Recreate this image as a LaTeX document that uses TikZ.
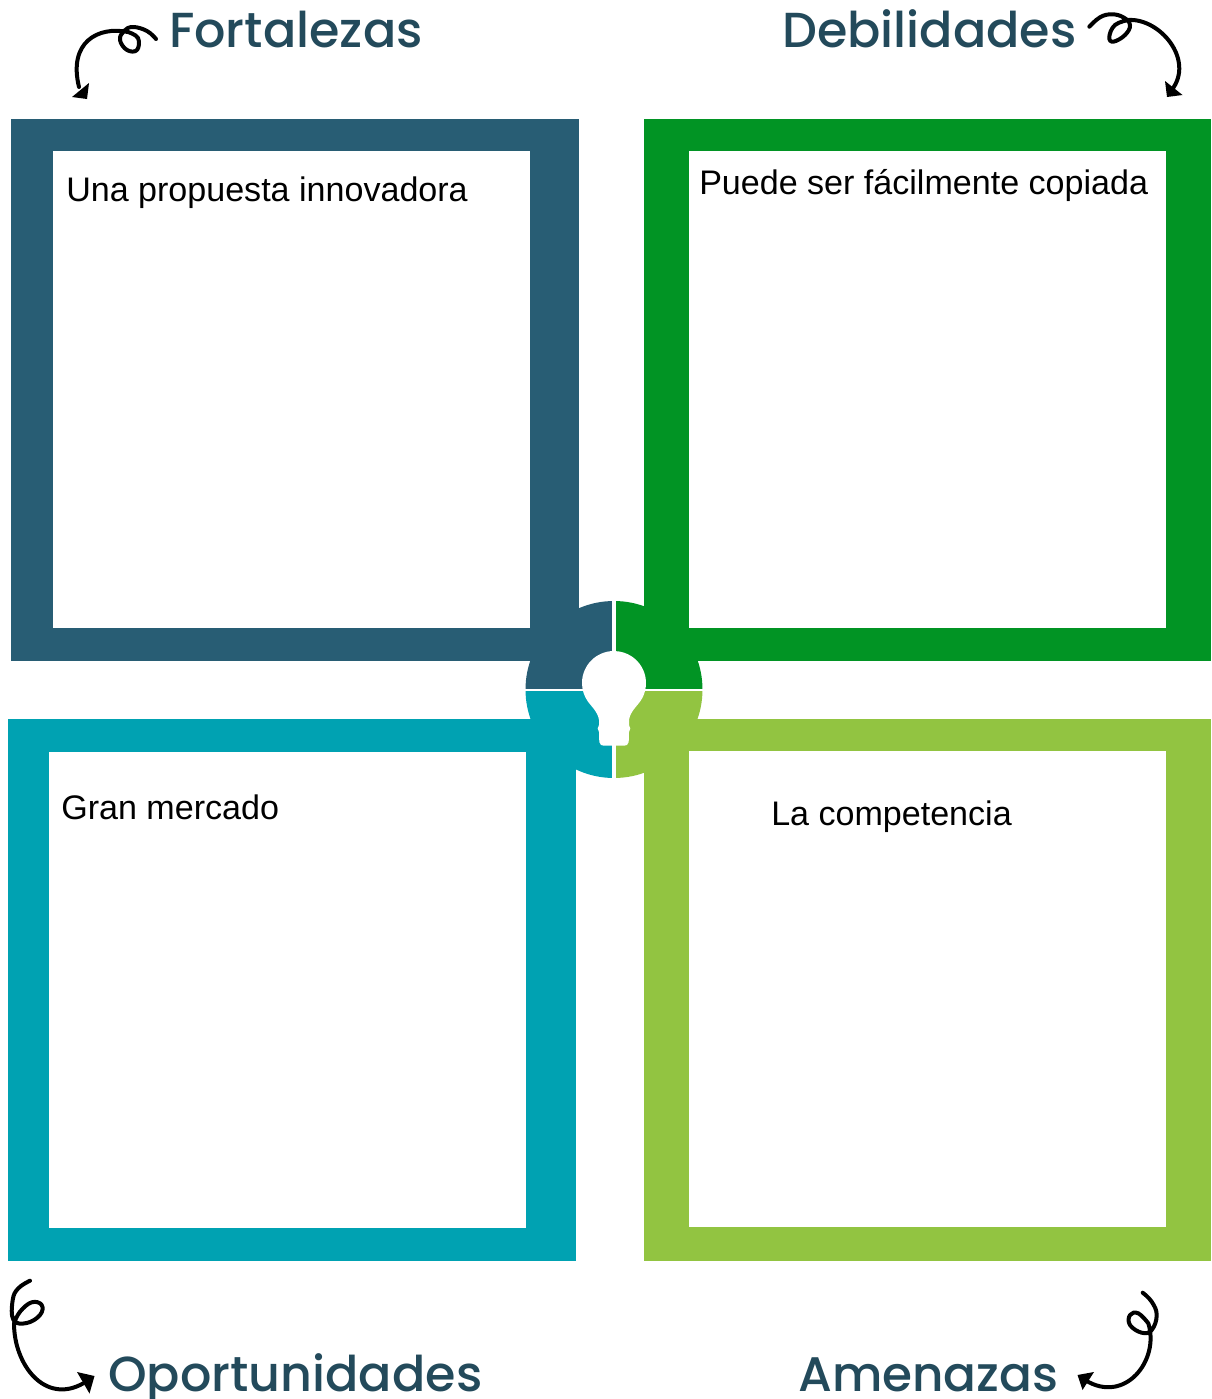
\documentclass[tikz,border=0pt]{standalone}
\usepackage{fontspec}
\setmainfont{Liberation Sans}
\newfontfamily\titlefont{Poppins Medium}
\definecolor{cblue}{HTML}{285D74}
\definecolor{cgreen}{HTML}{019424}
\definecolor{cteal}{HTML}{00A2B2}
\definecolor{clime}{HTML}{92C441}
\definecolor{ctitle}{HTML}{234A5B}
\tikzset{
  titletext/.style={anchor=base west,inner sep=0pt,text=ctitle,font=\titlefont\fontsize{36.9}{40}\selectfont},
  bodytext/.style={anchor=base west,inner sep=0pt,text=black,font=\fontsize{25.55}{30}\selectfont},
  swirl/.style={line width=3pt,line cap=round,line join=round,black},
}
\begin{document}
\begin{tikzpicture}[x=0.75pt,y=-0.75pt]
\useasboundingbox (0,0) rectangle (1211,1399);
% frames
\fill[cblue] (11,119) rectangle (579,661);
\fill[white] (53,151) rectangle (530,628);
\fill[cgreen] (644,119) rectangle (1211,661);
\fill[white] (689,151) rectangle (1166,628);
\fill[cteal] (8,719) rectangle (576,1261);
\fill[white] (49,752) rectangle (526,1228);
\fill[clime] (644,719) rectangle (1211,1261);
\fill[white] (689,751) rectangle (1166,1227);
% central quadrants
\fill[cblue] (614,689.5) -- (525.5,689.5) arc[start angle=180,end angle=270,radius=88.5] -- cycle;
\fill[cgreen] (614,689.5) -- (614,601) arc[start angle=270,end angle=360,radius=88.5] -- cycle;
\fill[cteal] (614,689.5) -- (614,778) arc[start angle=90,end angle=180,radius=88.5] -- cycle;
\fill[clime] (614,689.5) -- (702.5,689.5) arc[start angle=0,end angle=90,radius=88.5] -- cycle;
\fill[white] (612.3,595) rectangle (615.7,782);
\fill[white] (520,689.4) rectangle (708,691.4);
% bulb
\fill[white] (614,651) arc[start angle=270,end angle=145,radius=32]
  .. controls (591,706) and (598,712) .. (599,720) -- (599,725) -- (597.7,728.5) -- (599,732) -- (599.3,742)
  .. controls (599.5,745) and (602,745.7) .. (604,745.7) -- (624,745.7)
  .. controls (626,745.7) and (628.5,745) .. (628.7,742) -- (629,732) -- (630.3,728.5) -- (629,725) -- (629,720)
  .. controls (630,712) and (637,706) .. (640.2,701.4)
  arc[start angle=35,end angle=-90,radius=32] -- cycle;
% titles
\node[titletext] (fort) at (169,47) {Fortalezas};
\node[titletext] (deb) at (782,47) {Debilidades};
\node[titletext] (opor) at (108,1391) {Oportunidades};
\node[titletext,font=\titlefont\fontsize{36.4}{40}\selectfont] (amen) at (798,1391) {Amenazas};
% body text
\node[bodytext] (t1) at (66,201) {Una propuesta innovadora};
\node[bodytext] (t2) at (699,194) {Puede ser fácilmente copiada};
\node[bodytext] (t3) at (61,819) {Gran mercado};
\node[bodytext] (t4) at (771,825) {La competencia};
% swirls
\draw[swirl] plot[smooth,tension=0.7] coordinates {(156,39) (147,31) (133,27) (124,31) (120,40) (127,50) (137,50) (138,38) (128,32)} .. controls (98,26) and (68,42) .. (79,87);
\fill (89,83) -- (72,97) -- (87,99) -- cycle;
\draw[swirl] plot[smooth,tension=0.7] coordinates {(1089.3,26.7) (1100,17.3) (1111.7,14.3) (1123.3,17.3) (1130,25) (1125,35) (1113.3,41.7) (1109.3,36.7) (1115,25) (1128.3,20)} .. controls (1160,18) and (1195,60) .. (1171.7,90);
\fill (1165,81) -- (1167,97) -- (1182.5,95) -- cycle;
\draw[swirl] plot[smooth,tension=0.7] coordinates {(30,1280.7) (18.3,1288.3) (12.7,1300) (13.5,1320) (26.7,1323) (40,1315) (41.7,1305) (31.7,1302.3) (20,1311.7) (14,1323.3)} .. controls (14,1365) and (45,1405) .. (83.3,1383.3);
\fill (77,1372) -- (94.5,1376) -- (89.5,1393.5) -- cycle;
\draw[swirl] plot[smooth,tension=0.7] coordinates {(1142.7,1292.7) (1151.7,1301.7) (1156.7,1315) (1151.7,1330) (1141.7,1332.7) (1130,1325) (1130,1315) (1138.3,1313.3) (1148.3,1323.3)} .. controls (1160,1360) and (1125,1405) .. (1085,1380);
\fill (1094,1372) -- (1077.5,1375) -- (1082.5,1390) -- cycle;
\end{tikzpicture}
\end{document}
